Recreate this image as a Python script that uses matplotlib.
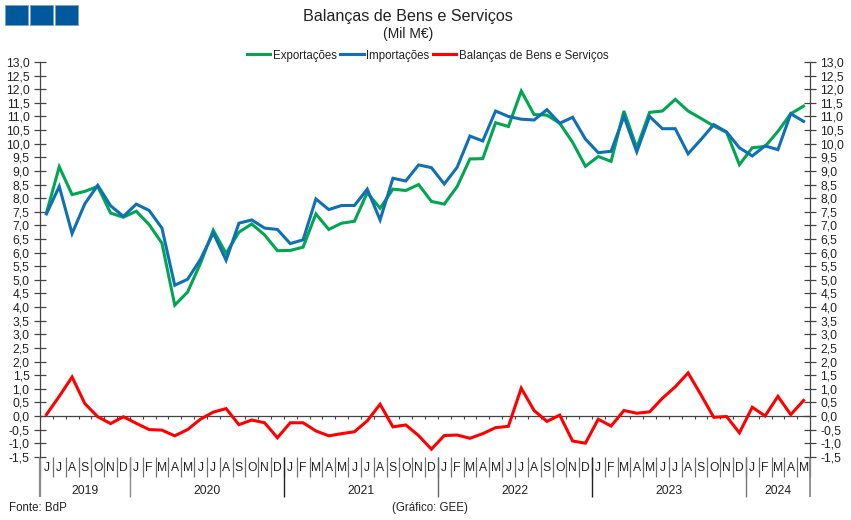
import matplotlib
matplotlib.use("Agg")
import matplotlib.pyplot as plt
from matplotlib.patches import Rectangle
from matplotlib.transforms import blended_transform_factory
import numpy as np

plt.rcParams['font.family'] = ['Liberation Sans', 'DejaVu Sans']

months = list("JJASOND" + "JFMAMJJASOND" * 4 + "JFMAM")
years = ["2019", "2020", "2021", "2022", "2023", "2024"]
year_counts = [7, 12, 12, 12, 12, 5]

exports = [7.45, 9.15, 8.13, 8.25, 8.43, 7.45, 7.30,
           7.52, 7.03, 6.35, 4.07, 4.55, 5.60, 6.82, 5.97, 6.75, 7.05, 6.65, 6.07,
           6.08, 6.20, 7.42, 6.85, 7.08, 7.15, 8.20, 7.63, 8.33, 8.28, 8.50, 7.88,
           7.78, 8.42, 9.44, 9.45, 10.77, 10.63, 11.93, 11.07, 11.05, 10.75, 10.05, 9.17,
           9.53, 9.35, 11.20, 9.85, 11.15, 11.20, 11.63, 11.20, 10.93, 10.65, 10.42, 9.23,
           9.85, 9.90, 10.45, 11.10, 11.38]
imports = [7.42, 8.43, 6.70, 7.80, 8.47, 7.72, 7.33,
           7.78, 7.55, 6.90, 4.80, 5.02, 5.75, 6.72, 5.72, 7.08, 7.20, 6.90, 6.85,
           6.33, 6.47, 7.97, 7.58, 7.73, 7.73, 8.33, 7.20, 8.73, 8.63, 9.22, 9.12,
           8.52, 9.13, 10.28, 10.10, 11.20, 11.00, 10.90, 10.87, 11.25, 10.75, 10.97, 10.17,
           9.67, 9.72, 11.00, 9.70, 11.00, 10.55, 10.55, 9.63, 10.15, 10.70, 10.43, 9.85,
           9.55, 9.92, 9.78, 11.10, 10.82]
balance = [0.05, 0.72, 1.43, 0.45, -0.03, -0.28, -0.03,
           -0.27, -0.50, -0.52, -0.73, -0.50, -0.12, 0.14, 0.27, -0.32, -0.15, -0.25, -0.80,
           -0.25, -0.25, -0.55, -0.73, -0.65, -0.58, -0.18, 0.43, -0.40, -0.33, -0.72, -1.22,
           -0.72, -0.70, -0.82, -0.65, -0.43, -0.38, 1.02, 0.20, -0.20, 0.03, -0.92, -1.00,
           -0.12, -0.37, 0.20, 0.10, 0.15, 0.65, 1.07, 1.58, 0.78, -0.05, -0.02, -0.62,
           0.32, 0.00, 0.72, 0.05, 0.57]

W, H = 851, 520
L, R, T, B = 40.0, 810.0, 62.0, 456.8
GREEN, BLUE, RED = "#00A650", "#0F6FB7", "#FF0000"
TXT = "#222222"
FS = 8.7
FS2 = 8.3

fig = plt.figure(figsize=(W / 100, H / 100), dpi=100, facecolor="white")
ax = fig.add_axes([L / W, 1 - B / H, (R - L) / W, (B - T) / H])
ax.set_facecolor("none")
x = np.arange(len(months))
ax.set_xlim(-0.5, len(months) - 0.5)
ax.set_ylim(-1.5, 13.0)

ax.plot(x, exports, color=GREEN, lw=2.2, label="Exportações", solid_joinstyle="miter", zorder=3)
ax.plot(x, imports, color=BLUE, lw=2.2, label="Importações", solid_joinstyle="miter", zorder=4)
ax.plot(x, balance, color=RED, lw=2.2, label="Balanças de Bens e Serviços", solid_joinstyle="miter", zorder=5)

# axes
for s in ("top", "bottom"):
    ax.spines[s].set_visible(False)
for s in ("left", "right"):
    ax.spines[s].set_color("#444444")
    ax.spines[s].set_linewidth(0.9)
yt = np.arange(-1.5, 13.01, 0.5)
ax.set_yticks(yt)
ax.set_yticklabels([f"{v:.1f}".replace(".", ",") for v in yt])
ax.tick_params(axis="y", which="major", direction="inout", length=9, width=0.9, color="#444444",
               labelsize=FS, labelcolor=TXT, pad=3, left=True, right=True, labelleft=True, labelright=True)
ax.axhline(0, color="#444444", lw=0.9, zorder=2)

# ticks under the zero line, at month boundaries
bounds = np.arange(0, len(months) + 1) - 0.5
ax.vlines(bounds, -0.12, 0, color="#444444", lw=0.8, zorder=2)
ax.set_xticks([])

# month and year furniture below the axes
tr = blended_transform_factory(ax.transData, fig.transFigure)
def fy(p):
    return 1 - p / H
starts = np.cumsum([0] + year_counts)
ax.vlines(bounds, fy(477), fy(B), transform=tr, color="#707070", lw=0.9, clip_on=False)
for i, m in enumerate(months):
    ax.text(i, fy(471), m, transform=tr, ha="center", va="baseline", fontsize=FS, color=TXT)
sep_cols = ["#8a8a8a", "#8a8a8a", "#222222", "#666666", "#222222", "#777777", "#8a8a8a"]
sep_lw = [1.6, 1.0, 1.0, 1.0, 1.0, 1.0, 1.3]
for s, c, w in zip(starts, sep_cols, sep_lw):
    ax.vlines(s - 0.5, fy(497), fy(B), transform=tr, color=c, lw=w, clip_on=False)
for j, y in enumerate(years):
    ax.text((starts[j] + starts[j + 1] - 1) / 2, fy(494), y, transform=tr, ha="center", va="baseline",
            fontsize=FS, color=TXT)

# titles, legend, notes
fig.text(408 / W, fy(21), "Balanças de Bens e Serviços", ha="center", va="baseline", fontsize=11.6,
         color=TXT)
fig.text(408.5 / W, fy(38), "(Mil M€)", ha="center", va="baseline", fontsize=10, color=TXT)
fig.text(9 / W, fy(511), "Fonte: BdP", ha="left", va="baseline", fontsize=FS2, color=TXT)
fig.text(392 / W, fy(511), "(Gráfico: GEE)", ha="left", va="baseline", fontsize=FS2, color=TXT)

leg = ax.legend(loc="center", bbox_to_anchor=(427.5 / W, fy(55.5)), bbox_transform=fig.transFigure, ncol=3,
                frameon=False, fontsize=FS2, handlelength=2.05, handletextpad=0.2, columnspacing=0.3,
                labelcolor=TXT, borderpad=0)

# logo
for lx in (5, 30, 55):
    fig.add_artist(Rectangle((lx / W, fy(25)), 23 / W, 20 / H, transform=fig.transFigure,
                             facecolor="#00599D", edgecolor="#7f9fbd", lw=0.6))

fig.savefig("out.png", dpi=100, facecolor="white")
